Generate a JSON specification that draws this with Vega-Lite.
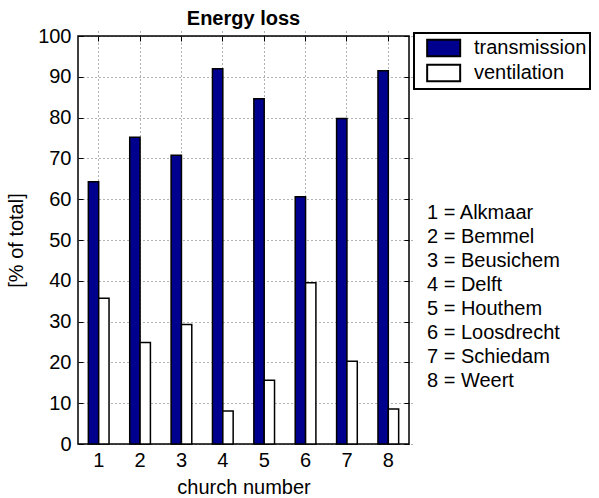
{
 "$schema": "https://vega.github.io/schema/vega-lite/v6.json",
 "width": 331,
 "height": 408,
 "autosize": {"type": "none"},
 "padding": {"left": 78, "top": 36, "right": 190, "bottom": 54},
 "background": "white",
 "config": {
  "font": "Liberation Sans",
  "view": {"stroke": "#000", "strokeWidth": 1.5},
  "legend": {"strokeWidth": 2},
  "axis": {
   "labelFontSize": 20, "titleFontSize": 20, "labelColor": "#000", "titleColor": "#000",
   "titleFontWeight": "normal", "domain": false, "tickColor": "#000", "tickSize": 5, "tickWidth": 1, "offset": -5,
   "gridColor": "#000", "gridOpacity": 0.6, "gridDash": [1, 3], "gridWidth": 1
  }
 },
 "title": {"text": "Energy loss", "fontSize": 20, "fontWeight": "bold", "font": "Liberation Sans", "anchor": "middle", "baseline": "alphabetic", "offset": 11, "dy": 30, "color": "#000"},
 "datasets": {
  "loss": [
   {"church": 1, "series": "transmission", "value": 64.3},
   {"church": 2, "series": "transmission", "value": 75.2},
   {"church": 3, "series": "transmission", "value": 70.8},
   {"church": 4, "series": "transmission", "value": 92.0},
   {"church": 5, "series": "transmission", "value": 84.6},
   {"church": 6, "series": "transmission", "value": 60.6},
   {"church": 7, "series": "transmission", "value": 79.8},
   {"church": 8, "series": "transmission", "value": 91.5},
   {"church": 1, "series": "ventilation", "value": 35.7},
   {"church": 2, "series": "ventilation", "value": 24.9},
   {"church": 3, "series": "ventilation", "value": 29.3},
   {"church": 4, "series": "ventilation", "value": 8.1},
   {"church": 5, "series": "ventilation", "value": 15.6},
   {"church": 6, "series": "ventilation", "value": 39.5},
   {"church": 7, "series": "ventilation", "value": 20.3},
   {"church": 8, "series": "ventilation", "value": 8.6}
  ],
  "churches": [
   {"label": "1 = Alkmaar"},
   {"label": "2 = Bemmel"},
   {"label": "3 = Beusichem"},
   {"label": "4 = Delft"},
   {"label": "5 = Houthem"},
   {"label": "6 = Loosdrecht"},
   {"label": "7 = Schiedam"},
   {"label": "8 = Weert"}
  ]
 },
 "resolve": {"axis": {"x": "independent", "y": "independent"}},
 "layer": [
  {
   "data": {"name": "loss"},
   "mark": {"type": "bar", "stroke": "#000", "strokeWidth": 1.5},
   "encoding": {
    "x": {"field": "church", "type": "ordinal", "scale": {"paddingInner": 0, "paddingOuter": 0},
     "axis": {"title": "church number", "labelAngle": 0, "bandPosition": 0.5, "grid": true, "labelPadding": 6, "titleY": 54, "titleBaseline": "alphabetic"}},
    "xOffset": {"field": "series", "type": "nominal", "scale": {"paddingInner": 0, "paddingOuter": 1}},
    "y": {"field": "value", "type": "quantitative", "scale": {"domain": [0, 100], "nice": false},
     "axis": {"title": "[% of total]", "values": [0, 10, 20, 30, 40, 50, 60, 70, 80, 90, 100], "grid": true, "labelPadding": 7, "titleX": -67, "titleY": 204, "titleBaseline": "middle"}},
    "color": {"field": "series", "type": "nominal",
     "scale": {"domain": ["transmission", "ventilation"], "range": ["#00008F", "#ffffff"]},
     "legend": {"title": null, "orient": "none", "legendX": 336, "legendY": -3, "direction": "vertical",
      "symbolType": "M-0.1667,-0.75H2.8333V0.75H-0.1667Z", "symbolSize": 484, "symbolStrokeColor": "#000", "symbolStrokeWidth": 2,
      "labelFontSize": 20, "labelOffset": 33, "labelColor": "#000", "strokeColor": "#000",
      "labelExpr": "datum.label + '\u00a0\u00a0'",
      "padding": 3, "rowPadding": -2, "fillColor": "white", "labelLimit": 300}}
   }
  },
  {
   "data": {"name": "loss"},
   "mark": {"type": "bar", "opacity": 0},
   "encoding": {
    "x": {"field": "church", "type": "ordinal",
     "axis": {"orient": "top", "title": null, "labels": false, "grid": false, "bandPosition": 0.5}},
    "y": {"field": "value", "type": "quantitative",
     "axis": {"orient": "right", "title": null, "labels": false, "grid": false, "values": [0, 10, 20, 30, 40, 50, 60, 70, 80, 90, 100]}}
   }
  },
  {
   "data": {"name": "churches"},
   "mark": {"type": "point", "opacity": 0},
   "encoding": {
    "shape": {"field": "label", "type": "nominal",
     "legend": {"title": null, "orient": "none", "legendX": 329, "legendY": 167, "symbolSize": 0, "symbolStrokeWidth": 0, "symbolOpacity": 0,
      "labelOffset": 0, "labelFontSize": 20, "rowPadding": 4, "padding": 0, "labelLimit": 300, "labelColor": "#000"}}
   }
  }
 ]
}
